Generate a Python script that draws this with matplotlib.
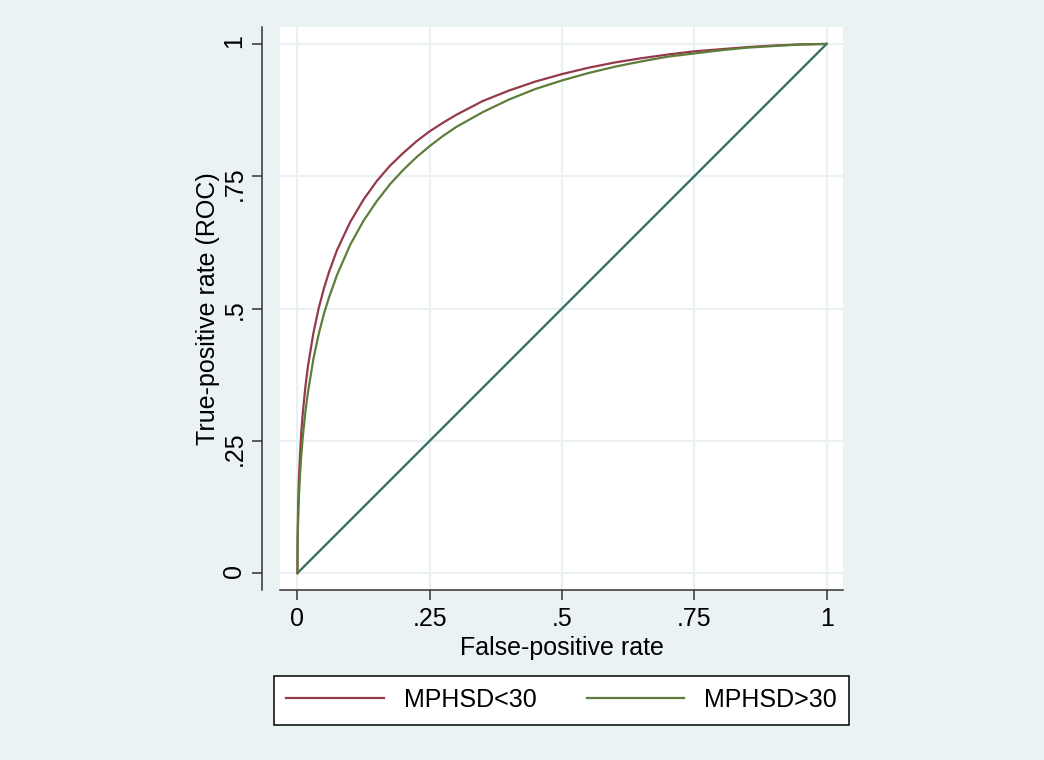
import matplotlib
matplotlib.use("Agg")
import matplotlib.pyplot as plt

plt.rcParams['font.family'] = ['Liberation Sans', 'DejaVu Sans']

# ROC points
fpr = [0, 0.0001, 0.0002, 0.0005, 0.001, 0.002, 0.003, 0.005, 0.007, 0.01,
       0.015, 0.02, 0.03, 0.04, 0.05, 0.06, 0.075, 0.1, 0.125, 0.15,
       0.175, 0.2, 0.225, 0.25, 0.275, 0.3, 0.35, 0.4, 0.45, 0.5,
       0.55, 0.6, 0.65, 0.7, 0.75, 0.8, 0.85, 0.9, 0.95, 1]
tpr_lt30 = [0, .038, .053, .082, .113, .154, .184, .228, .262, .302,
            .352, .392, .453, .500, .538, .570, .611, .664, .706, .741,
            .770, .794, .816, .835, .851, .866, .892, .912, .929, .943,
            .955, .965, .973, .980, .986, .990, .994, .997, .999, 1]
tpr_gt30 = [0, .027, .038, .062, .088, .123, .149, .189, .220, .257,
            .305, .343, .404, .451, .490, .522, .564, .621, .666, .703,
            .735, .762, .786, .807, .826, .843, .871, .895, .915, .931,
            .945, .957, .967, .976, .982, .988, .993, .996, .999, 1]
ref_line = [0, 1]

ticks = [0, 0.25, 0.5, 0.75, 1]
tick_labels = ['0', '.25', '.5', '.75', '1']

BG = '#eaf2f3'
GRID = '#eaf0f3'

fig = plt.figure(figsize=(10.44, 7.6), dpi=100, facecolor=BG)
ax = fig.add_axes([280 / 1044, 170 / 760, 563 / 1044, 563 / 760])
ax.set_facecolor('white')

ax.plot(fpr, tpr_lt30, color='#943a4a', lw=1.6, label='MPHSD<30', zorder=3,
        solid_joinstyle='round')
ax.plot(fpr, tpr_gt30, color='#5d7d3a', lw=1.6, label='MPHSD>30', zorder=3,
        solid_joinstyle='round')
ax.plot(ref_line, ref_line, color='#2f6b5f', lw=1.6, zorder=2)

ax.set_xlim(-0.033, 1.031)
ax.set_ylim(-0.032, 1.032)
ax.set_xticks(ticks)
ax.set_xticklabels(tick_labels)
ax.set_yticks(ticks)
ax.set_yticklabels(tick_labels, rotation=90, va='center')
ax.tick_params(labelsize=18, length=7.2, width=1.1, color='#333333', labelcolor='black')
ax.tick_params(axis='x', pad=5)
ax.tick_params(axis='y', pad=4, labelrotation=90)
for lab in ax.get_yticklabels():
    lab.set_verticalalignment('center')
ax.grid(True, color=GRID, lw=1.6)
ax.set_axisbelow(True)

for s in ['top', 'right']:
    ax.spines[s].set_visible(False)
ax.spines['left'].set_position(('outward', 13))
for s in ['left', 'bottom']:
    ax.spines[s].set_color('#333333')
    ax.spines[s].set_linewidth(1.1)

ax.set_xlabel('False-positive rate', fontsize=18, labelpad=4)
ax.set_ylabel('True-positive rate (ROC)', fontsize=18, labelpad=2)

leg = fig.legend(handles=ax.lines[:2], loc='center', ncol=2,
                 bbox_to_anchor=(561.5 / 1044, 60 / 760),
                 borderaxespad=0, fontsize=18, handlelength=3.9, frameon=True,
                 fancybox=False, borderpad=0.5, columnspacing=2.0)
leg.get_frame().set_edgecolor('black')
leg.get_frame().set_linewidth(1.1)
leg.get_frame().set_facecolor('white')
leg.get_frame().set_alpha(1)

fig.savefig('out.png', dpi=100, facecolor=BG)
